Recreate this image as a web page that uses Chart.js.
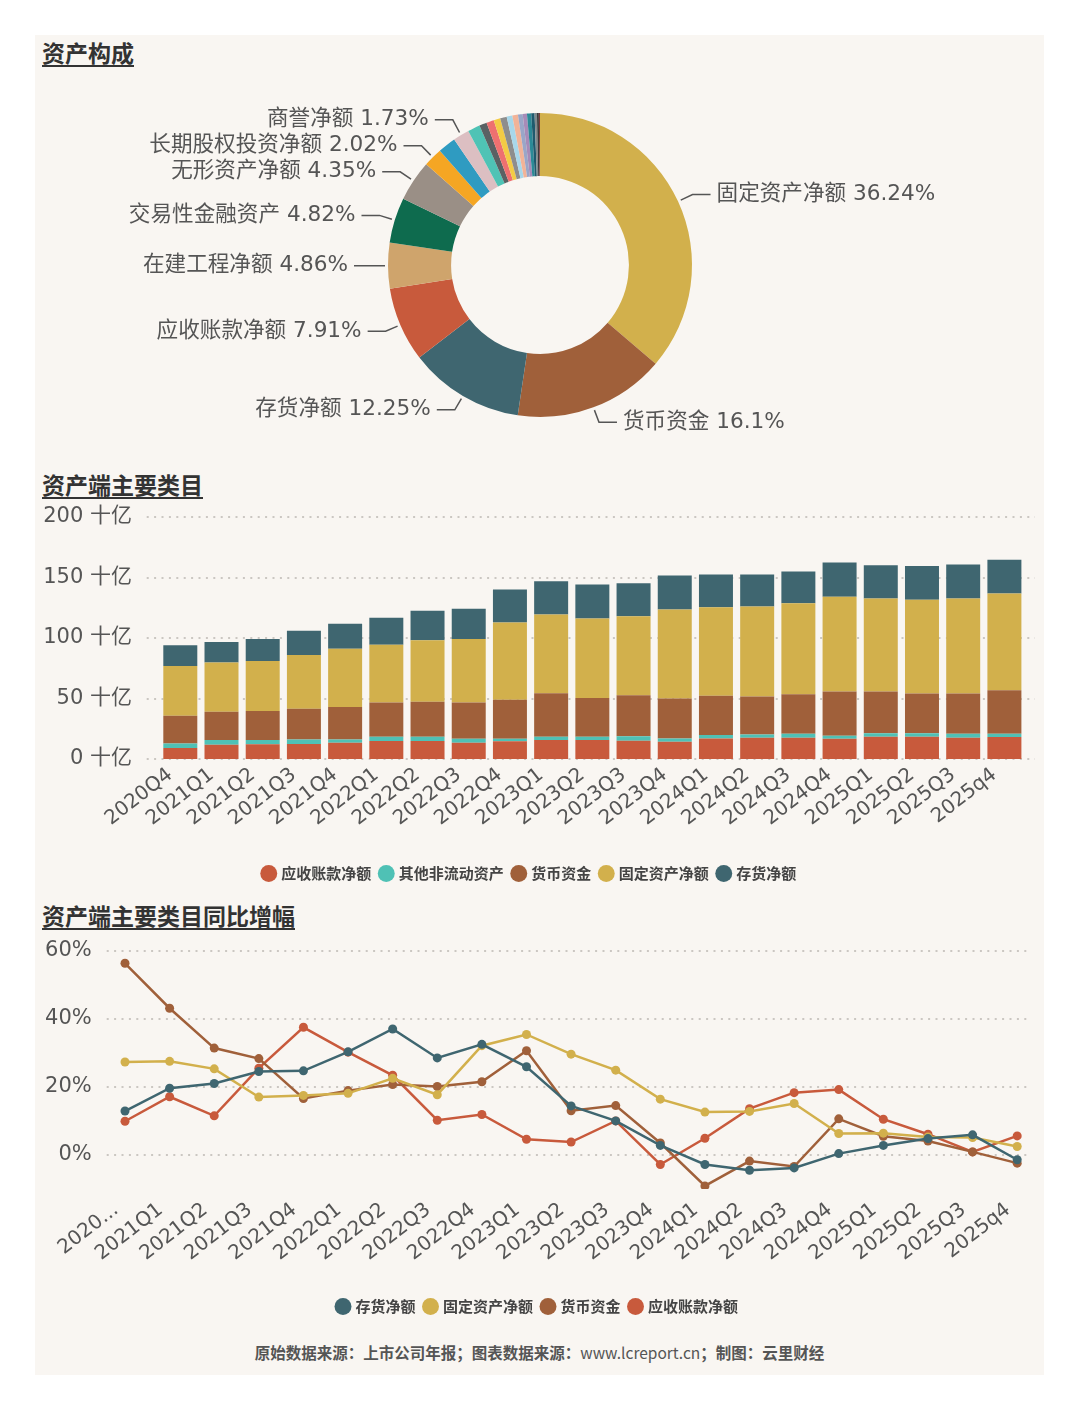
<!DOCTYPE html>
<html><head><meta charset="utf-8">
<script src="https://cdn.jsdelivr.net/npm/chart.js@4.4.1/dist/chart.umd.min.js"></script>
<style>
html,body{margin:0;padding:0;background:#ffffff;}
body{width:1080px;height:1410px;position:relative;overflow:hidden;font-family:"DejaVu Sans","Noto Sans CJK SC",sans-serif;}
#card{position:absolute;left:35px;top:35px;width:1009px;height:1340px;background:#f9f6f2;}
.title{position:absolute;left:7px;font-family:"Noto Sans CJK SC",sans-serif;font-weight:700;font-size:23px;color:#333;text-decoration:underline;text-underline-offset:3px;text-decoration-thickness:2px;line-height:23px;white-space:nowrap;}
canvas{position:absolute;left:0;}
#footer{position:absolute;left:0;width:1009px;text-align:center;font-family:"Noto Sans CJK SC",sans-serif;font-weight:700;font-size:15.5px;color:#555;line-height:20px;white-space:nowrap;}
#footer span{font-weight:400;}
</style>
</head><body>
<div id="card">
  <div class="title" style="top:6px">资产构成</div>
  <canvas id="pie" width="1009" height="370" style="top:45px"></canvas>
  <div class="title" style="top:438px">资产端主要类目</div>
  <canvas id="bar" width="1009" height="391" style="top:465px"></canvas>
  <div class="title" style="top:869px">资产端主要类目同比增幅</div>
  <canvas id="line" width="1009" height="394" style="top:895px"></canvas>
  <div id="footer" style="top:1307px">原始数据来源：上市公司年报；图表数据来源：<span>www.lcreport.cn</span>；制图：云里财经</div>
</div>
<script>
// ---------- DATA ----------
const assetNames = ['固定资产净额','货币资金','存货净额','应收账款净额','在建工程净额','交易性金融资产','无形资产净额','长期股权投资净额','其他权益工具投资','商誉净额','其他非流动资产','预付款项','其他流动资产','递延所得税资产','使用权资产','应收票据','其他应收款','长期待摊费用','应收款项融资','合同资产','投资性房地产','开发支出','一年内到期的非流动资产','衍生金融资产'];
const assetShares = [36.24,16.1,12.25,7.91,4.86,4.82,4.35,2.02,1.9,1.73,1.3,0.8,0.8,0.7,0.7,0.6,0.6,0.5,0.45,0.45,0.35,0.25,0.2,0.12];
const labeledAssets = ['固定资产净额','货币资金','存货净额','应收账款净额','在建工程净额','交易性金融资产','无形资产净额','长期股权投资净额','商誉净额'];
const pieColors = ['#d2b04c','#a0603a','#3f6670','#c85a3c','#cfa46c','#0e6b4e','#9a8f86','#f5a623','#2f9bc1','#dcbfc2','#4fc3b5','#5a6163','#ee7070','#f3cb45','#8d8d8d','#a8d7ea','#f2b398','#9aa6c8','#a78bb8','#2b8a97','#1f5a6e','#7f8a8e','#3b3b3b','#7a3b3b'];

const quarters = ['2020Q4','2021Q1','2021Q2','2021Q3','2021Q4','2022Q1','2022Q2','2022Q3','2022Q4','2023Q1','2023Q2','2023Q3','2023Q4','2024Q1','2024Q2','2024Q3','2024Q4','2025Q1','2025Q2','2025Q3','2025q4'];

// 十亿
const receivables     = [9.1,11.8,12.1,12.4,13.5,14.8,14.8,13.5,14.6,15.7,15.7,15.1,14.3,17.0,17.6,17.6,16.8,18.4,18.4,17.6,18.1];
const otherNonCurrent = [3.8,3.9,3.6,3.8,2.7,3.6,3.6,3.3,2.2,2.7,2.7,3.6,2.7,2.8,2.7,3.3,2.4,2.8,2.8,3.3,2.8];
const cash            = [22.8,23.3,23.9,25.3,26.7,28.3,28.9,29.9,32.1,36.0,32.1,34.0,33.0,32.4,31.3,32.7,36.6,34.6,32.9,33.2,36.0];
const fixedAssets     = [41.2,40.7,41.4,44.5,48.3,47.8,50.8,52.5,64.0,65.1,65.7,65.2,73.6,73.3,74.5,75.2,78.3,76.9,77.5,78.6,79.9];
const inventory       = [17.1,17.0,18.2,20.0,20.6,22.3,24.4,25.0,27.2,27.5,28.0,27.4,28.0,27.0,26.4,26.1,28.3,27.5,28.0,28.0,27.8];

// 同比 %
const inventoryYoY   = [12.9,19.6,21.0,24.5,24.7,30.3,37.0,28.5,32.5,25.9,14.4,10.0,2.8,-2.8,-4.5,-3.8,0.4,2.8,4.8,5.9,-1.4];
const fixedYoY       = [27.3,27.5,25.3,17.0,17.5,18.1,22.5,17.7,32.1,35.4,29.6,24.9,16.4,12.6,12.8,15.1,6.3,6.4,5.3,5.1,2.5];
const cashYoY        = [56.3,43.1,31.4,28.3,16.6,18.9,20.7,20.1,21.5,30.6,13.0,14.5,3.5,-9.1,-1.8,-3.4,10.6,5.5,4.1,0.9,-2.4];
const receivablesYoY = [9.9,17.1,11.5,25.5,37.5,30.2,23.4,10.2,11.9,4.6,3.8,10.0,-2.8,4.9,13.6,18.3,19.2,10.5,6.1,0.9,5.6];

const barTicks = [0,50,100,150,200];
const lineTicks = [0,20,40,60];

// ---------- STYLE ----------
const C = {red:'#c85a3c', teal:'#4fc1b5', brown:'#a0603a', yellow:'#d2b04c', dark:'#3f6670'};
const LATIN = '"DejaVu Sans", "Noto Sans CJK SC", sans-serif';
const CJK = '"Noto Sans CJK SC", sans-serif';

const dotGrid = {
  id:'dotGrid',
  beforeDatasetsDraw(chart, args, opts){
    const y = chart.scales.y, a = chart.chartArea, ctx = chart.ctx;
    ctx.save();
    ctx.strokeStyle = '#cbc7c2'; ctx.lineWidth = 2; ctx.setLineDash([2,5.4]);
    y.ticks.forEach(t => {
      const py = Math.round(y.getPixelForValue(t.value));
      ctx.beginPath(); ctx.moveTo(a.left - opts.left, py); ctx.lineTo(a.right + opts.right, py); ctx.stroke();
    });
    ctx.restore();
  }
};

const pieLabels = {
  id:'pieLabels',
  afterDatasetsDraw(chart){
    const ctx = chart.ctx, meta = chart.getDatasetMeta(0), ds = chart.data.datasets[0];
    const items = [];
    meta.data.forEach((arc, i) => {
      const name = chart.data.labels[i], v = ds.data[i];
      if (!labeledAssets.includes(name)) return;
      const p = arc.getProps(['x','y','startAngle','endAngle','outerRadius'], true);
      const mid = (p.startAngle + p.endAngle) / 2;
      const c = Math.cos(mid), s = Math.sin(mid);
      const r0 = p.outerRadius + 3, r1 = p.outerRadius + 16;
      items.push({right: c >= 0, x0: p.x + c*r0, y0: p.y + s*r0, x1: p.x + c*r1, ly: p.y + s*r1, text: name + ' ' + v + '%'});
    });
    [true, false].forEach(side => {
      const list = items.filter(it => it.right === side).sort((a,b) => a.ly - b.ly);
      for (let k = list.length - 2; k >= 0; k--) {
        if (list[k+1].ly - list[k].ly < 26) list[k].ly = list[k+1].ly - 26;
      }
    });
    ctx.save();
    ctx.font = '21.6px ' + LATIN;
    ctx.textBaseline = 'middle';
    ctx.strokeStyle = '#555'; ctx.fillStyle = '#555'; ctx.lineWidth = 1.5;
    items.forEach(it => {
      const dir = it.right ? 1 : -1;
      const ex = it.x1 + dir*18;
      ctx.beginPath(); ctx.moveTo(it.x0, it.y0); ctx.lineTo(it.x1, it.ly); ctx.lineTo(ex, it.ly); ctx.stroke();
      ctx.textAlign = it.right ? 'left' : 'right';
      ctx.fillText(it.text, ex + dir*6, it.ly);
    });
    ctx.restore();
  }
};

const legendOpts = {
  position:'bottom',
  labels:{usePointStyle:true, pointStyle:'circle', boxWidth:10, boxHeight:12, padding:10, color:'#444',
          font:{size:15, weight:'bold', family:CJK}}
};

// ---------- PIE ----------
new Chart(document.getElementById('pie'), {
  type:'doughnut',
  data:{labels:assetNames, datasets:[{data:assetShares, backgroundColor:pieColors, borderWidth:0, hoverOffset:0}]},
  options:{
    responsive:false, animation:false, events:[],
    cutout:'58.5%',
    layout:{padding:{left:353, right:352, top:33, bottom:33}},
    plugins:{legend:{display:false}, tooltip:{enabled:false}}
  },
  plugins:[pieLabels]
});

// ---------- BAR ----------
new Chart(document.getElementById('bar'), {
  type:'bar',
  data:{labels:quarters, datasets:[
    {label:'应收账款净额', data:receivables, backgroundColor:C.red},
    {label:'其他非流动资产', data:otherNonCurrent, backgroundColor:C.teal},
    {label:'货币资金', data:cash, backgroundColor:C.brown},
    {label:'固定资产净额', data:fixedAssets, backgroundColor:C.yellow},
    {label:'存货净额', data:inventory, backgroundColor:C.dark}
  ]},
  options:{
    responsive:false, animation:false, events:[],
    layout:{padding:{left:0, right:19, top:17, bottom:0}},
    datasets:{bar:{barPercentage:0.825, categoryPercentage:1, borderWidth:0}},
    scales:{
      x:{stacked:true, grid:{display:false, drawTicks:false}, border:{display:false},
         ticks:{color:'#555', font:{size:20, family:LATIN}, minRotation:38, maxRotation:38, autoSkip:false, padding:4, labelOffset:-10},
         afterFit(s){ s.height = 97; }},
      y:{stacked:true, min:barTicks[0], max:barTicks[barTicks.length-1], grid:{display:false, tickLength:27}, border:{display:false},
         afterBuildTicks(s){ s.ticks = barTicks.map(v => ({value:v})); },
         ticks:{color:'#555', font:{size:21, family:LATIN}, padding:0.7, callback:v => v + ' 十亿'},
         afterFit(s){ s.width = 124.7; }}
    },
    plugins:{legend:legendOpts, tooltip:{enabled:false}, dotGrid:{left:13, right:10}}
  },
  plugins:[dotGrid]
});

// ---------- LINE ----------
new Chart(document.getElementById('line'), {
  type:'line',
  data:{labels:quarters, datasets:[
    {label:'存货净额', data:inventoryYoY, borderColor:C.dark, backgroundColor:C.dark},
    {label:'固定资产净额', data:fixedYoY, borderColor:C.yellow, backgroundColor:C.yellow},
    {label:'货币资金', data:cashYoY, borderColor:C.brown, backgroundColor:C.brown},
    {label:'应收账款净额', data:receivablesYoY, borderColor:C.red, backgroundColor:C.red}
  ]},
  options:{
    responsive:false, animation:false, events:[],
    layout:{padding:{left:0, right:3, top:20.7, bottom:0}},
    elements:{line:{borderWidth:2.5, tension:0}, point:{radius:4.5, borderWidth:0}},
    scales:{
      x:{offset:true, grid:{display:false, drawTicks:false}, border:{display:false},
         ticks:{color:'#555', font:{size:20, family:LATIN}, minRotation:38, maxRotation:38, autoSkip:false, padding:9, labelOffset:-9,
                callback:(v, i) => i === 0 ? quarters[0].slice(0,4) + '...' : quarters[i]},
         afterFit(s){ s.height = 100; }},
      y:{min:-10, max:60, grid:{display:false}, border:{display:false},
         afterBuildTicks(s){ s.ticks = lineTicks.map(v => ({value:v})); },
         ticks:{color:'#555', font:{size:21, family:LATIN}, padding:3, callback:v => v + '%'},
         afterFit(s){ s.width = 67.7; }}
    },
    plugins:{legend:legendOpts, tooltip:{enabled:false}, dotGrid:{left:-4, right:-11}}
  },
  plugins:[dotGrid]
});
</script>
</body></html>
